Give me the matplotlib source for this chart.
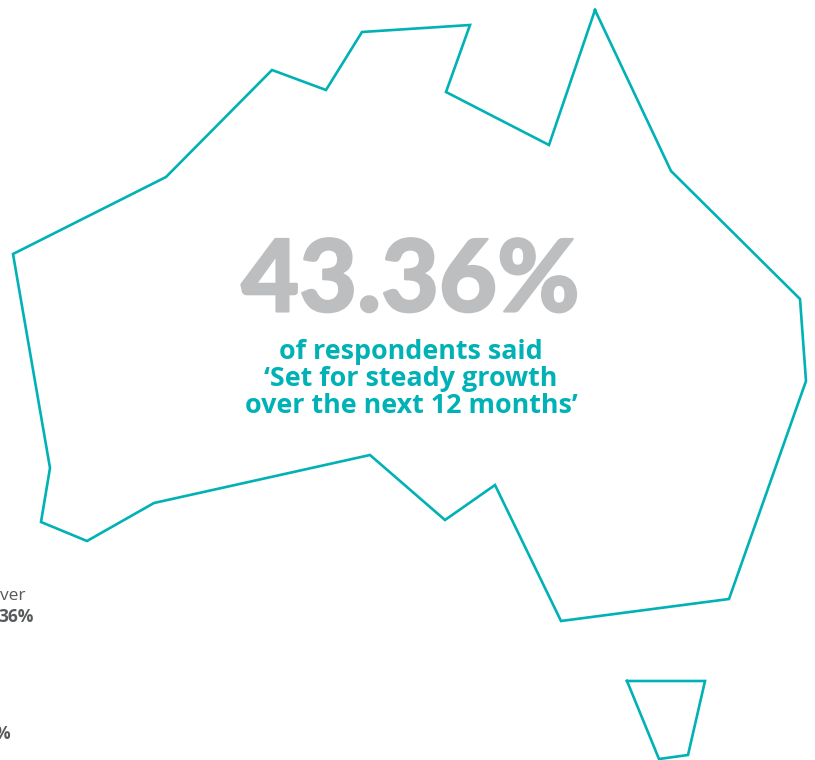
import matplotlib
matplotlib.use("Agg")
import matplotlib.pyplot as plt
import matplotlib.patheffects as pe

teal = '#00b1b5'
grey = '#bcbec0'
dark = '#58595b'

# mainland outline, x then y
main_x = [595, 671, 800, 806, 729, 561, 495, 445, 370, 154, 87, 41, 50, 13, 166, 272, 326, 362, 470, 446, 549, 595]
main_y = [10, 171, 299, 381, 599, 621, 485, 520, 455, 503, 541, 522, 468, 254, 177, 70, 90, 32, 25, 92, 145, 10]

# tasmania outline
tas_x = [627, 705, 688, 659, 627]
tas_y = [681, 681, 755, 759, 681]

big_value = "43.36%"
caption = ["of respondents said", "‘Set for steady growth", "over the next 12 months’"]
caption_y = [352, 379, 406]

fig = plt.figure(figsize=(8.15, 7.6), dpi=100)
ax = fig.add_axes([0, 0, 1, 1])
ax.set_xlim(0, 815)
ax.set_ylim(760, 0)
ax.axis('off')

ax.plot(main_x, main_y, color=teal, lw=1.9, solid_joinstyle='miter')
ax.plot(tas_x, tas_y, color=teal, lw=1.9, solid_joinstyle='miter')

# slight stroke to thicken the headline number
ax.text(410.5, 283, big_value, color=grey, family='Lato', weight='black',
        fontsize=72, ha='center', va='center',
        path_effects=[pe.withStroke(linewidth=1.5, foreground=grey)])

for line, y in zip(caption, caption_y):
    ax.text(411, y, line, color=teal, family='Open Sans', weight='bold',
            fontsize=19.4, ha='center', va='center')

# labels cut off by the left edge
ax.text(26, 596, "ver", color=dark, family='Open Sans', fontsize=12.5, ha='right', va='center')
ax.text(34, 617, "36%", color=dark, family='Open Sans', weight='bold', fontsize=12.5, ha='right', va='center')
ax.text(10, 734, "%", color=dark, family='Open Sans', weight='bold', fontsize=12.5, ha='right', va='center')

fig.savefig("out.png", dpi=100)
